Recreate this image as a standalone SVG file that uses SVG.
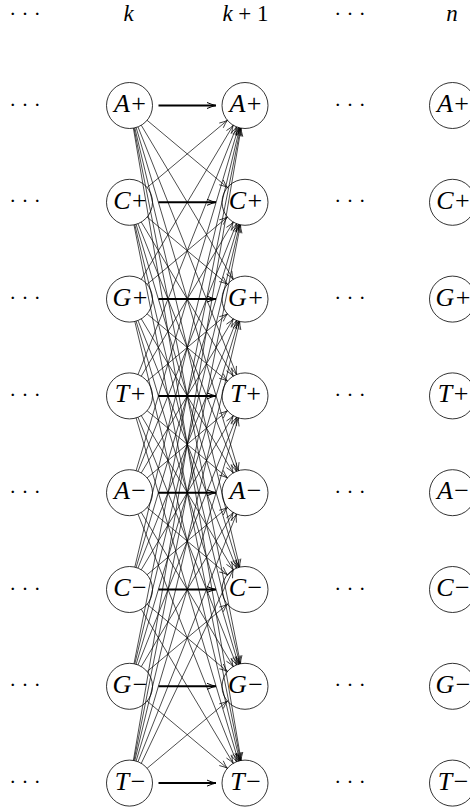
<svg xmlns="http://www.w3.org/2000/svg" width="470" height="810" viewBox="0 0 470 810" font-family="Liberation Serif, Times New Roman, serif">
  <style>
    text { fill: #000; }
    .lbl { font-size: 26px; }
    .it { font-style: italic; }
    .hdr { font-size: 23px; text-anchor: middle; }
    .dots { font-size: 21px; text-anchor: middle; }
    .node circle { fill: #fff; stroke: #000; stroke-width: 0.8; }
    .node text { text-anchor: middle; }
    #connectors line { stroke: #000; fill: none; }
    #connectors .thin { stroke-width: 0.7; marker-end: url(#tip); }
    #connectors .thick { stroke-width: 2; marker-end: url(#tipBold); }
  </style>
  <defs>
    <marker id="tip" markerUnits="userSpaceOnUse" markerWidth="12" markerHeight="10" refX="10" refY="5" orient="auto" overflow="visible">
      <path d="M2,1.9 Q7,4.4 10,5 Q7,5.6 2,8.1" fill="none" stroke="#000" stroke-width="0.7"/>
    </marker>
    <marker id="tipBold" markerUnits="userSpaceOnUse" markerWidth="12" markerHeight="10" refX="10" refY="5" orient="auto" overflow="visible">
      <path d="M1,2 Q6.5,4.4 10,5 Q6.5,5.6 1,8" fill="none" stroke="#000" stroke-width="1"/>
    </marker>
  </defs>

  <!-- column headings -->
  <g id="headings">
    <text class="dots" x="25" y="21">· · ·</text>
    <text class="hdr" x="128.5" y="21"><tspan class="it">k</tspan></text>
    <text class="hdr" x="245.5" y="21"><tspan class="it">k</tspan> + 1</text>
    <text class="dots" x="350" y="21">· · ·</text>
    <text class="hdr" x="452" y="21"><tspan class="it">n</tspan></text>
  </g>

  <!-- ellipses between columns -->
  <g id="ellipses">
    <text class="dots" x="25" y="111.5">· · ·</text>
    <text class="dots" x="25" y="208.3">· · ·</text>
    <text class="dots" x="25" y="305.1">· · ·</text>
    <text class="dots" x="25" y="401.9">· · ·</text>
    <text class="dots" x="25" y="498.7">· · ·</text>
    <text class="dots" x="25" y="595.5">· · ·</text>
    <text class="dots" x="25" y="692.3">· · ·</text>
    <text class="dots" x="25" y="789.1">· · ·</text>
    <text class="dots" x="350" y="111.5">· · ·</text>
    <text class="dots" x="350" y="208.3">· · ·</text>
    <text class="dots" x="350" y="305.1">· · ·</text>
    <text class="dots" x="350" y="401.9">· · ·</text>
    <text class="dots" x="350" y="498.7">· · ·</text>
    <text class="dots" x="350" y="595.5">· · ·</text>
    <text class="dots" x="350" y="692.3">· · ·</text>
    <text class="dots" x="350" y="789.1">· · ·</text>
  </g>

  <!-- column k -->
  <g id="k-Ap" class="node"><circle cx="129.5" cy="105.5" r="23"/><text class="lbl" x="130" y="112"><tspan class="it">A</tspan><tspan dx="1.5">+</tspan></text></g>
  <g id="k-Cp" class="node"><circle cx="129.5" cy="202.3" r="23"/><text class="lbl" x="130" y="208.8"><tspan class="it">C</tspan><tspan dx="1.5">+</tspan></text></g>
  <g id="k-Gp" class="node"><circle cx="129.5" cy="299.1" r="23"/><text class="lbl" x="130" y="305.6"><tspan class="it">G</tspan><tspan dx="1.5">+</tspan></text></g>
  <g id="k-Tp" class="node"><circle cx="129.5" cy="395.9" r="23"/><text class="lbl" x="130" y="402.4"><tspan class="it">T</tspan><tspan dx="1.5">+</tspan></text></g>
  <g id="k-Am" class="node"><circle cx="129.5" cy="492.7" r="23"/><text class="lbl" x="130" y="499.2"><tspan class="it">A</tspan><tspan dx="1.5">−</tspan></text></g>
  <g id="k-Cm" class="node"><circle cx="129.5" cy="589.5" r="23"/><text class="lbl" x="130" y="596"><tspan class="it">C</tspan><tspan dx="1.5">−</tspan></text></g>
  <g id="k-Gm" class="node"><circle cx="129.5" cy="686.3" r="23"/><text class="lbl" x="130" y="692.8"><tspan class="it">G</tspan><tspan dx="1.5">−</tspan></text></g>
  <g id="k-Tm" class="node"><circle cx="129.5" cy="783.1" r="23"/><text class="lbl" x="130" y="789.6"><tspan class="it">T</tspan><tspan dx="1.5">−</tspan></text></g>

  <!-- column k+1 -->
  <g id="k1-Ap" class="node"><circle cx="245" cy="105.5" r="23"/><text class="lbl" x="245.5" y="112"><tspan class="it">A</tspan><tspan dx="1.5">+</tspan></text></g>
  <g id="k1-Cp" class="node"><circle cx="245" cy="202.3" r="23"/><text class="lbl" x="245.5" y="208.8"><tspan class="it">C</tspan><tspan dx="1.5">+</tspan></text></g>
  <g id="k1-Gp" class="node"><circle cx="245" cy="299.1" r="23"/><text class="lbl" x="245.5" y="305.6"><tspan class="it">G</tspan><tspan dx="1.5">+</tspan></text></g>
  <g id="k1-Tp" class="node"><circle cx="245" cy="395.9" r="23"/><text class="lbl" x="245.5" y="402.4"><tspan class="it">T</tspan><tspan dx="1.5">+</tspan></text></g>
  <g id="k1-Am" class="node"><circle cx="245" cy="492.7" r="23"/><text class="lbl" x="245.5" y="499.2"><tspan class="it">A</tspan><tspan dx="1.5">−</tspan></text></g>
  <g id="k1-Cm" class="node"><circle cx="245" cy="589.5" r="23"/><text class="lbl" x="245.5" y="596"><tspan class="it">C</tspan><tspan dx="1.5">−</tspan></text></g>
  <g id="k1-Gm" class="node"><circle cx="245" cy="686.3" r="23"/><text class="lbl" x="245.5" y="692.8"><tspan class="it">G</tspan><tspan dx="1.5">−</tspan></text></g>
  <g id="k1-Tm" class="node"><circle cx="245" cy="783.1" r="23"/><text class="lbl" x="245.5" y="789.6"><tspan class="it">T</tspan><tspan dx="1.5">−</tspan></text></g>

  <!-- column n (runs off the right edge) -->
  <g id="n-Ap" class="node"><circle cx="452.5" cy="105.5" r="23"/><text class="lbl" x="453" y="112"><tspan class="it">A</tspan><tspan dx="1.5">+</tspan></text></g>
  <g id="n-Cp" class="node"><circle cx="452.5" cy="202.3" r="23"/><text class="lbl" x="453" y="208.8"><tspan class="it">C</tspan><tspan dx="1.5">+</tspan></text></g>
  <g id="n-Gp" class="node"><circle cx="452.5" cy="299.1" r="23"/><text class="lbl" x="453" y="305.6"><tspan class="it">G</tspan><tspan dx="1.5">+</tspan></text></g>
  <g id="n-Tp" class="node"><circle cx="452.5" cy="395.9" r="23"/><text class="lbl" x="453" y="402.4"><tspan class="it">T</tspan><tspan dx="1.5">+</tspan></text></g>
  <g id="n-Am" class="node"><circle cx="452.5" cy="492.7" r="23"/><text class="lbl" x="453" y="499.2"><tspan class="it">A</tspan><tspan dx="1.5">−</tspan></text></g>
  <g id="n-Cm" class="node"><circle cx="452.5" cy="589.5" r="23"/><text class="lbl" x="453" y="596"><tspan class="it">C</tspan><tspan dx="1.5">−</tspan></text></g>
  <g id="n-Gm" class="node"><circle cx="452.5" cy="686.3" r="23"/><text class="lbl" x="453" y="692.8"><tspan class="it">G</tspan><tspan dx="1.5">−</tspan></text></g>
  <g id="n-Tm" class="node"><circle cx="452.5" cy="783.1" r="23"/><text class="lbl" x="453" y="789.6"><tspan class="it">T</tspan><tspan dx="1.5">−</tspan></text></g>

  <!-- transitions k -> k+1: every state to every state -->
  <g id="connectors">
    <!-- same-state transitions -->
    <line class="thick" x1="158.5" y1="105.5" x2="216" y2="105.5"/>
    <line class="thick" x1="158.5" y1="202.3" x2="216" y2="202.3"/>
    <line class="thick" x1="158.5" y1="299.1" x2="216" y2="299.1"/>
    <line class="thick" x1="158.5" y1="395.9" x2="216" y2="395.9"/>
    <line class="thick" x1="158.5" y1="492.7" x2="216" y2="492.7"/>
    <line class="thick" x1="158.5" y1="589.5" x2="216" y2="589.5"/>
    <line class="thick" x1="158.5" y1="686.3" x2="216" y2="686.3"/>
    <line class="thick" x1="158.5" y1="783.1" x2="216" y2="783.1"/>

    <!-- from A+ -->
    <line class="thin" x1="147.1" y1="120.3" x2="227.4" y2="187.5"/>
    <line class="thin" x1="141.3" y1="125.3" x2="233.2" y2="279.3"/>
    <line class="thin" x1="138.0" y1="126.9" x2="236.5" y2="374.5"/>
    <line class="thin" x1="136.1" y1="127.5" x2="238.4" y2="470.7"/>
    <line class="thin" x1="134.8" y1="127.9" x2="239.7" y2="567.1"/>
    <line class="thin" x1="134.0" y1="128.1" x2="240.5" y2="663.7"/>
    <line class="thin" x1="133.4" y1="128.2" x2="241.1" y2="760.4"/>

    <!-- from C+ -->
    <line class="thin" x1="147.1" y1="187.5" x2="227.4" y2="120.3"/>
    <line class="thin" x1="147.1" y1="217.1" x2="227.4" y2="284.3"/>
    <line class="thin" x1="141.3" y1="222.1" x2="233.2" y2="376.1"/>
    <line class="thin" x1="138.0" y1="223.7" x2="236.5" y2="471.3"/>
    <line class="thin" x1="136.1" y1="224.3" x2="238.4" y2="567.5"/>
    <line class="thin" x1="134.8" y1="224.7" x2="239.7" y2="663.9"/>
    <line class="thin" x1="134.0" y1="224.9" x2="240.5" y2="760.5"/>

    <!-- from G+ -->
    <line class="thin" x1="141.3" y1="279.3" x2="233.2" y2="125.3"/>
    <line class="thin" x1="147.1" y1="284.3" x2="227.4" y2="217.1"/>
    <line class="thin" x1="147.1" y1="313.9" x2="227.4" y2="381.1"/>
    <line class="thin" x1="141.3" y1="318.9" x2="233.2" y2="472.9"/>
    <line class="thin" x1="138.0" y1="320.5" x2="236.5" y2="568.1"/>
    <line class="thin" x1="136.1" y1="321.1" x2="238.4" y2="664.3"/>
    <line class="thin" x1="134.8" y1="321.5" x2="239.7" y2="760.7"/>

    <!-- from T+ -->
    <line class="thin" x1="138.0" y1="374.5" x2="236.5" y2="126.9"/>
    <line class="thin" x1="141.3" y1="376.1" x2="233.2" y2="222.1"/>
    <line class="thin" x1="147.1" y1="381.1" x2="227.4" y2="313.9"/>
    <line class="thin" x1="147.1" y1="410.7" x2="227.4" y2="477.9"/>
    <line class="thin" x1="141.3" y1="415.7" x2="233.2" y2="569.7"/>
    <line class="thin" x1="138.0" y1="417.3" x2="236.5" y2="664.9"/>
    <line class="thin" x1="136.1" y1="417.9" x2="238.4" y2="761.1"/>

    <!-- from A- -->
    <line class="thin" x1="136.1" y1="470.7" x2="238.4" y2="127.5"/>
    <line class="thin" x1="138.0" y1="471.3" x2="236.5" y2="223.7"/>
    <line class="thin" x1="141.3" y1="472.9" x2="233.2" y2="318.9"/>
    <line class="thin" x1="147.1" y1="477.9" x2="227.4" y2="410.7"/>
    <line class="thin" x1="147.1" y1="507.5" x2="227.4" y2="574.7"/>
    <line class="thin" x1="141.3" y1="512.5" x2="233.2" y2="666.5"/>
    <line class="thin" x1="138.0" y1="514.1" x2="236.5" y2="761.7"/>

    <!-- from C- -->
    <line class="thin" x1="134.8" y1="567.1" x2="239.7" y2="127.9"/>
    <line class="thin" x1="136.1" y1="567.5" x2="238.4" y2="224.3"/>
    <line class="thin" x1="138.0" y1="568.1" x2="236.5" y2="320.5"/>
    <line class="thin" x1="141.3" y1="569.7" x2="233.2" y2="415.7"/>
    <line class="thin" x1="147.1" y1="574.7" x2="227.4" y2="507.5"/>
    <line class="thin" x1="147.1" y1="604.3" x2="227.4" y2="671.5"/>
    <line class="thin" x1="141.3" y1="609.3" x2="233.2" y2="763.3"/>

    <!-- from G- -->
    <line class="thin" x1="134.0" y1="663.7" x2="240.5" y2="128.1"/>
    <line class="thin" x1="134.8" y1="663.9" x2="239.7" y2="224.7"/>
    <line class="thin" x1="136.1" y1="664.3" x2="238.4" y2="321.1"/>
    <line class="thin" x1="138.0" y1="664.9" x2="236.5" y2="417.3"/>
    <line class="thin" x1="141.3" y1="666.5" x2="233.2" y2="512.5"/>
    <line class="thin" x1="147.1" y1="671.5" x2="227.4" y2="604.3"/>
    <line class="thin" x1="147.1" y1="701.1" x2="227.4" y2="768.3"/>

    <!-- from T- -->
    <line class="thin" x1="133.4" y1="760.4" x2="241.1" y2="128.2"/>
    <line class="thin" x1="134.0" y1="760.5" x2="240.5" y2="224.9"/>
    <line class="thin" x1="134.8" y1="760.7" x2="239.7" y2="321.5"/>
    <line class="thin" x1="136.1" y1="761.1" x2="238.4" y2="417.9"/>
    <line class="thin" x1="138.0" y1="761.7" x2="236.5" y2="514.1"/>
    <line class="thin" x1="141.3" y1="763.3" x2="233.2" y2="569.7"/>
    <line class="thin" x1="147.1" y1="768.3" x2="227.4" y2="701.1"/>
  </g>
</svg>
